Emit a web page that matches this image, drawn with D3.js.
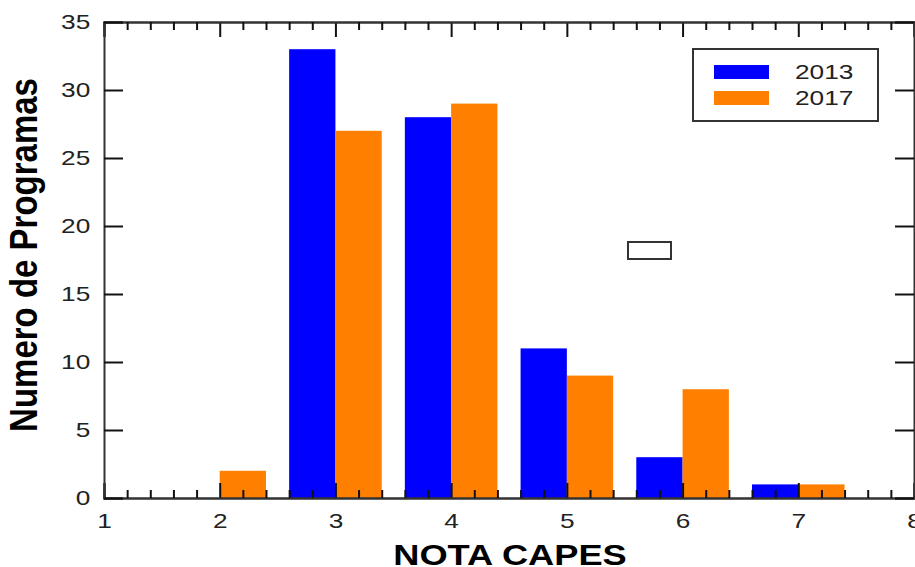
<!DOCTYPE html>
<html>
<head>
<meta charset="utf-8">
<script src="https://cdn.jsdelivr.net/npm/d3@7"></script>
<style>
  body { margin: 0; background: #fff; }
  svg { font-family: "Liberation Sans", Arial, sans-serif; }
</style>
</head>
<body>
<div id="chart"></div>
<script>
// Data
const notas = [2, 3, 4, 5, 6, 7];
const values2013 = [0, 33, 28, 11, 3, 1];
const values2017 = [2, 27, 29, 9, 8, 1];
const seriesNames = ["2013", "2017"];
const xTicks = [1, 2, 3, 4, 5, 6, 7, 8];
const yTicks = [0, 5, 10, 15, 20, 25, 30, 35];

let width = 915, height = 567;
let margin = {top: 22, right: 1, bottom: 69, left: 104};

// the original text looks stretched sideways
const stretch = "scale(1.25,1)";

let svg = d3.select("#chart")
            .append("svg")
            .attr("width", width)
            .attr("height", height);

let xscale = d3.scaleLinear()
               .domain([1, 8])
               .range([margin.left, width - margin.right]);

let yscale = d3.scaleLinear()
             .domain([0, 35])
             .range([height - margin.bottom, margin.top]);

const color = d3.scaleOrdinal()
                .domain(seriesNames)
                .range(["#0000ff", "#ff7f00"]);

const barW = 0.4;
const axisColor = "#333";

// Bars: 2013 to the left of the integer, 2017 to the right
const rows = [];
notas.forEach((n, i) => {
  rows.push({nota: n, serie: "2013", v: values2013[i], off: -barW});
  rows.push({nota: n, serie: "2017", v: values2017[i], off: 0});
});

svg.selectAll("rect.bar")
   .data(rows.filter(d => d.v > 0))
   .enter()
   .append("rect")
   .attr("class", "bar")
   .attr("x", d => xscale(d.nota + d.off))
   .attr("width", d => xscale(d.nota + d.off + barW) - xscale(d.nota + d.off))
   .attr("y", d => yscale(d.v))
   .attr("height", d => yscale(0) - yscale(d.v))
   .attr("fill", d => color(d.serie));

// Minor ticks every 0.2 on x
const minorX = d3.range(1, 8.001, 0.2).map(v => +v.toFixed(1)).filter(v => !Number.isInteger(v));

// Bottom axis (ticks inward)
let xAxisBottom = svg.append("g")
   .attr("transform", `translate(0, ${yscale(0)})`);
xAxisBottom.call(d3.axisBottom(xscale).tickValues(xTicks).tickSize(-15).tickFormat(d3.format("d")).tickPadding(15));
xAxisBottom.append("g").call(d3.axisBottom(xscale).tickValues(minorX).tickSize(-8).tickFormat(""));

// Top axis
let xAxisTop = svg.append("g")
   .attr("transform", `translate(0, ${yscale(35)})`);
xAxisTop.call(d3.axisTop(xscale).tickValues(xTicks).tickSize(-15).tickFormat(""));
xAxisTop.append("g").call(d3.axisTop(xscale).tickValues(minorX).tickSize(-8).tickFormat(""));

// Left axis
let yAxisLeft = svg.append("g")
   .attr("transform", `translate(${xscale(1)}, 0)`);
yAxisLeft.call(d3.axisLeft(yscale).tickValues(yTicks).tickSize(-19).tickPadding(11));

// Right axis
let yAxisRight = svg.append("g")
   .attr("transform", `translate(${xscale(8)}, 0)`);
yAxisRight.call(d3.axisRight(yscale).tickValues(yTicks).tickSize(-19).tickFormat(""));

svg.selectAll(".domain")
   .attr("stroke", axisColor)
   .attr("stroke-width", 2);
svg.selectAll(".tick line")
   .attr("stroke", "#111")
   .attr("stroke-width", 2);
svg.selectAll(".tick text")
   .attr("font-size", 21)
   .attr("fill", "#222")
   .attr("font-family", "Liberation Sans, Arial, sans-serif")
   .attr("transform", stretch);

// Axis labels
svg.append("text")
   .attr("transform", `translate(510, 565) ${stretch}`)
   .attr("text-anchor", "middle")
   .attr("font-size", 29)
   .attr("font-weight", "bold")
   .text("NOTA CAPES");

svg.append("text")
   .attr("transform", `translate(37, 255) rotate(-90) scale(1,1.15)`)
   .attr("text-anchor", "middle")
   .attr("font-size", 33)
   .attr("font-weight", "bold")
   .text("Numero de Programas");

// Legend
const legend = svg.append("g")
                  .attr("transform", "translate(693, 49)");
legend.append("rect")
      .attr("width", 185)
      .attr("height", 72)
      .attr("fill", "white")
      .attr("stroke", axisColor)
      .attr("stroke-width", 2);

seriesNames.forEach((s, i) => {
  legend.append("rect")
        .attr("x", 21)
        .attr("y", 16 + i * 26)
        .attr("width", 55)
        .attr("height", 14)
        .attr("fill", color(s));
  legend.append("text")
        .attr("transform", `translate(102, ${30 + i * 26}) ${stretch}`)
        .attr("font-size", 21)
        .attr("fill", "#222")
        .text(s);
});

// Stray empty box in the plot
svg.append("rect")
   .attr("x", 628)
   .attr("y", 242)
   .attr("width", 43)
   .attr("height", 17)
   .attr("fill", "none")
   .attr("stroke", axisColor)
   .attr("stroke-width", 2);
</script>
</body>
</html>
